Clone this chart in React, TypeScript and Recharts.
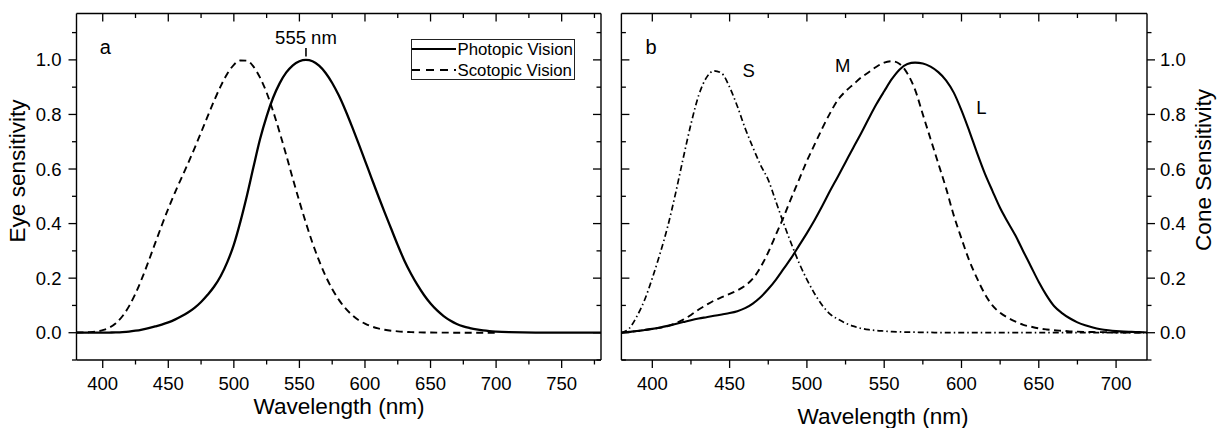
import React from 'react';
import { LineChart, Line, XAxis, YAxis, ReferenceDot, ReferenceLine } from 'recharts';

const FONT = '"Liberation Sans", Arial, Helvetica, sans-serif';

// panel a: luminous efficiency of the eye
const WAVELENGTH_A = [
  380, 385, 390, 395, 400, 405, 410, 415, 420, 425, 430, 435, 440, 445, 450, 455, 460, 465, 470, 475,
  480, 485, 490, 495, 500, 505, 510, 515, 520, 525, 530, 535, 540, 545, 550, 555, 560, 565, 570, 575,
  580, 585, 590, 595, 600, 605, 610, 615, 620, 625, 630, 635, 640, 645, 650, 655, 660, 665, 670, 675,
  680, 685, 690, 695, 700, 710, 720, 730, 740, 750, 760, 770, 780,
];
const PHOTOPIC = [
  0.00004, 0.00006, 0.00012, 0.00022, 0.0004, 0.00064, 0.0012, 0.0022, 0.004, 0.0073,
  0.0116, 0.0168, 0.023, 0.0298, 0.038, 0.048, 0.06, 0.0739, 0.091, 0.1126,
  0.139, 0.1693, 0.208, 0.2586, 0.323, 0.4073, 0.503, 0.6082, 0.71, 0.7932,
  0.862, 0.9149, 0.954, 0.9803, 0.995, 1.0, 0.995, 0.9786, 0.952, 0.9154,
  0.87, 0.8163, 0.757, 0.6949, 0.631, 0.5668, 0.503, 0.4412, 0.381, 0.321,
  0.265, 0.217, 0.175, 0.1382, 0.107, 0.0816, 0.061, 0.0446, 0.032, 0.0232,
  0.017, 0.0119, 0.0082, 0.0057, 0.0041,
  0.0021, 0.001, 0.0005, 0.00025, 0.00012, 0.00006, 0.00003, 0.00002,
];
const SCOTOPIC = [
  0.0006, 0.0011, 0.0022, 0.0045, 0.0093, 0.0185, 0.0348, 0.0604, 0.0966, 0.1436,
  0.1998, 0.2625, 0.3281, 0.3931, 0.455, 0.513, 0.567, 0.62, 0.676, 0.734,
  0.793, 0.851, 0.904, 0.949, 0.982, 0.998, 0.997, 0.975, 0.935, 0.88,
  0.811, 0.733, 0.65, 0.564, 0.481, 0.402, 0.3288, 0.2639, 0.2076, 0.1602,
  0.1212, 0.0899, 0.0655, 0.0469, 0.0332, 0.0231, 0.0159, 0.0109, 0.0074, 0.005,
  0.0033, 0.0022, 0.0015, 0.001, 0.0007, 0.0005, 0.0003, 0.0002, 0.0001, 0.0001,
  0.0001, 0, 0, 0, 0,
];

// panel b: cone sensitivities
const WAVELENGTH_B = [
  380, 385, 390, 395, 400, 405, 410, 415, 420, 425, 430, 435, 440, 445, 450, 455, 460, 465, 470, 475,
  480, 485, 490, 495, 500, 505, 510, 515, 520, 525, 530, 535, 540, 545, 550, 555, 560, 565, 570, 575,
  580, 585, 590, 595, 600, 605, 610, 615, 620, 625, 630, 635, 640, 645, 650, 655, 660, 665, 670, 675,
  680, 685, 690, 695, 700, 705, 710, 715, 720,
];
const CONE_L = [
  0, 0.003, 0.006, 0.01, 0.014, 0.019, 0.025, 0.032, 0.039, 0.046,
  0.052, 0.057, 0.062, 0.067, 0.072, 0.079, 0.09, 0.107, 0.13, 0.16,
  0.195, 0.235, 0.275, 0.32, 0.365, 0.413, 0.465, 0.52, 0.572, 0.625,
  0.678, 0.73, 0.785, 0.838, 0.885, 0.93, 0.965, 0.985, 0.99, 0.987,
  0.975, 0.955, 0.925, 0.88, 0.815, 0.74, 0.66, 0.585, 0.52, 0.457,
  0.405, 0.355, 0.298, 0.242, 0.186, 0.137, 0.097, 0.072, 0.053, 0.038,
  0.027, 0.019, 0.013, 0.009, 0.006, 0.004, 0.003, 0.002, 0.001,
];
const CONE_M = [
  0, 0.003, 0.006, 0.01, 0.014, 0.018, 0.024, 0.034, 0.048, 0.065,
  0.085, 0.102, 0.118, 0.13, 0.142, 0.155, 0.172, 0.198, 0.24, 0.295,
  0.36, 0.425, 0.495, 0.562, 0.63, 0.69, 0.75, 0.805, 0.853, 0.885,
  0.91, 0.935, 0.955, 0.975, 0.99, 0.995, 0.985, 0.95, 0.89, 0.8,
  0.71, 0.62, 0.53, 0.43, 0.345, 0.265, 0.2, 0.143, 0.1, 0.073,
  0.055, 0.041, 0.029, 0.022, 0.016, 0.012, 0.009, 0.007, 0.005, 0.004,
  0.003, 0.0025, 0.002, 0.0015, 0.001, 0.001, 0.0005, 0.0003, 0,
];
const CONE_S = [
  0, 0.015, 0.06, 0.12, 0.2, 0.29, 0.39, 0.51, 0.64, 0.765,
  0.87, 0.935, 0.96, 0.95, 0.9, 0.83, 0.75, 0.68, 0.615, 0.56,
  0.48, 0.4, 0.325, 0.255, 0.195, 0.143, 0.1, 0.068, 0.05, 0.035,
  0.024, 0.016, 0.011, 0.008, 0.006, 0.004, 0.003, 0.002, 0.002, 0.001,
  0.001, 0, 0, 0, 0, 0, 0, 0, 0, 0,
  0, 0, 0, 0, 0, 0, 0, 0, 0, 0,
  0, 0, 0, 0, 0, 0, 0, 0, 0,
];

const X_TICKS_A = [400, 425, 450, 475, 500, 525, 550, 575, 600, 625, 650, 675, 700, 725, 750, 775];
const X_TICKS_B = [400, 425, 450, 475, 500, 525, 550, 575, 600, 625, 650, 675, 700];
const Y_TICKS = [-0.1, 0, 0.1, 0.2, 0.3, 0.4, 0.5, 0.6, 0.7, 0.8, 0.9, 1.0, 1.1];
const Y_DOMAIN: [number, number] = [-0.1, 1.17];

const dataA = WAVELENGTH_A.map((wl, i) => ({
  wl,
  photopic: PHOTOPIC[i],
  scotopic: i < SCOTOPIC.length ? SCOTOPIC[i] : null,
}));
const dataB = WAVELENGTH_B.map((wl, i) => ({ wl, s: CONE_S[i], m: CONE_M[i], l: CONE_L[i] }));

const majorX = (v: number) => v % 50 === 0;
const majorY = (v: number) => v >= 0 && Math.round(v * 10) % 2 === 0;

// tick line drawn in direction (dx, dy) from the axis, optional label
const makeTick = (dx: number, dy: number, labelAt: 'below' | 'left' | 'right' | null, isMajor: (v: number) => boolean) =>
  (props: any) => {
    const { x, y, payload } = props;
    const v = payload.value as number;
    const major = isMajor(v);
    const len = major ? 8 : 4.5;
    let label = null;
    if (labelAt && major) {
      const common = { fill: '#000', fontSize: 18.5, fontFamily: FONT };
      if (labelAt === 'below')
        label = <text x={x} y={y + 30} textAnchor="middle" {...common}>{v}</text>;
      else if (labelAt === 'left')
        label = <text x={x - 15} y={y + 6.5} textAnchor="end" {...common}>{v.toFixed(1)}</text>;
      else
        label = <text x={x + 13} y={y + 6.5} textAnchor="start" {...common}>{v.toFixed(1)}</text>;
    }
    return (
      <g>
        <line x1={x} y1={y} x2={x + dx * len} y2={y + dy * len} stroke="#000" strokeWidth={1.3} />
        {label}
      </g>
    );
  };

const axisLine = { stroke: '#000', strokeWidth: 1.4 };
const noteStyle = { fill: '#000', fontSize: 18.5, fontFamily: FONT };

const Note = ({ x, y, text, size = 18.5 }: { x: number; y: number; text: string; size?: number }) => (
  <ReferenceDot
    x={x}
    y={y}
    r={1}
    fill="none"
    stroke="none"
    label={{ value: text, position: 'center', ...noteStyle, fontSize: size }}
  />
);

export default function App() {
  return (
    <div style={{ position: 'absolute', left: 0, top: 0, width: 1217, height: 428, background: '#fff' }}>
      <div style={{ position: 'absolute', left: 0, top: 0 }}>
        <LineChart width={640} height={428} data={dataA} margin={{ top: 12.5, right: 38, bottom: 0, left: 0 }}>
          <XAxis dataKey="wl" type="number" domain={[380, 780]} allowDataOverflow ticks={X_TICKS_A} interval={0}
            height={68} tickSize={0} tickMargin={0} tickLine={false} axisLine={axisLine}
            tick={makeTick(0, 1, 'below', majorX)} />
          <XAxis xAxisId="top" orientation="top" dataKey="wl" type="number" domain={[380, 780]} allowDataOverflow
            ticks={X_TICKS_A} interval={0} height={1} tickSize={0} tickMargin={0} tickLine={false} axisLine={axisLine}
            tick={makeTick(0, 1, null, majorX)} />
          <YAxis type="number" domain={Y_DOMAIN} allowDataOverflow ticks={Y_TICKS} interval={0} width={76.5}
            tickSize={0} tickMargin={0} tickLine={false} axisLine={axisLine}
            tick={makeTick(-1, 0, 'left', majorY)} />
          <YAxis yAxisId="r" orientation="right" type="number" domain={Y_DOMAIN} allowDataOverflow ticks={Y_TICKS}
            interval={0} width={1} tickSize={0} tickMargin={0} tickLine={false} axisLine={axisLine}
            tick={makeTick(-1, 0, null, majorY)} />
          <Line dataKey="scotopic" type="monotone" stroke="#000" strokeWidth={1.9} strokeDasharray="7 4.5"
            dot={false} isAnimationActive={false} />
          <Line dataKey="photopic" type="monotone" stroke="#000" strokeWidth={2.3} dot={false} isAnimationActive={false} />
          <ReferenceLine segment={[{ x: 555, y: 1.012 }, { x: 555, y: 1.044 }]} stroke="#000" strokeWidth={1.6} />
          <Note x={555} y={1.081} text="555 nm" />
          <Note x={402} y={1.046} text="a" size={20} />
        </LineChart>
      </div>

      <div style={{ position: 'absolute', left: 600, top: 0 }}>
        <LineChart width={617} height={428} data={dataB} margin={{ top: 12.5, right: 10, bottom: 0, left: 20.4 }}>
          <XAxis dataKey="wl" type="number" domain={[380, 720]} allowDataOverflow ticks={X_TICKS_B} interval={0}
            height={68} tickSize={0} tickMargin={0} tickLine={false} axisLine={axisLine}
            tick={makeTick(0, 1, 'below', majorX)} />
          <XAxis xAxisId="top" orientation="top" dataKey="wl" type="number" domain={[380, 720]} allowDataOverflow
            ticks={X_TICKS_B} interval={0} height={1} tickSize={0} tickMargin={0} tickLine={false} axisLine={axisLine}
            tick={makeTick(0, 1, null, majorX)} />
          <YAxis yAxisId="l" type="number" domain={Y_DOMAIN} allowDataOverflow ticks={Y_TICKS} interval={0} width={1}
            tickSize={0} tickMargin={0} tickLine={false} axisLine={axisLine}
            tick={makeTick(1, 0, null, majorY)} />
          <YAxis orientation="right" type="number" domain={Y_DOMAIN} allowDataOverflow ticks={Y_TICKS}
            interval={0} width={60} tickSize={0} tickMargin={0} tickLine={false} axisLine={axisLine}
            tick={makeTick(1, 0, 'right', majorY)} />
          <Line dataKey="s" type="monotone" stroke="#000" strokeWidth={1.7} strokeDasharray="6 3 1.5 3"
            dot={false} isAnimationActive={false} />
          <Line dataKey="m" type="monotone" stroke="#000" strokeWidth={1.9} strokeDasharray="7 4.5"
            dot={false} isAnimationActive={false} />
          <Line dataKey="l" type="monotone" stroke="#000" strokeWidth={2.1} dot={false} isAnimationActive={false} />
          <Note x={399.2} y={1.046} text="b" size={20} />
          <Note x={462.3} y={0.96} text="S" />
          <Note x={523.2} y={0.978} text="M" />
          <Note x={612.9} y={0.824} text="L" />
        </LineChart>
      </div>

      <svg width={164} height={41} style={{ position: 'absolute', left: 411, top: 39 }}>
        <rect x={0.5} y={0.5} width={163} height={40} fill="#fff" stroke="#222" strokeWidth={1} />
        <line x1={1} x2={45} y1={10} y2={10} stroke="#000" strokeWidth={2} />
        <text x={46.5} y={15.8} fontSize={16.8} fontFamily={FONT} fill="#000">Photopic Vision</text>
        <line x1={1} x2={45} y1={31} y2={31} stroke="#000" strokeWidth={1.8} strokeDasharray="8 6" />
        <text x={46.5} y={36.8} fontSize={16.8} fontFamily={FONT} fill="#000">Scotopic Vision</text>
      </svg>

      <svg width={1217} height={428} style={{ position: 'absolute', left: 0, top: 0, pointerEvents: 'none' }}>
        <g fontFamily={FONT} fontSize={22.6} fill="#000">
          <text x={25} y={171} textAnchor="middle" transform="rotate(-90 25 171)">Eye sensitivity</text>
          <text x={1211} y={170} textAnchor="middle" transform="rotate(-90 1211 170)">Cone Sensitivity</text>
          <text x={339} y={413.5} textAnchor="middle">Wavelength (nm)</text>
          <text x={883} y={423.5} textAnchor="middle">Wavelength (nm)</text>
        </g>
      </svg>
    </div>
  );
}
